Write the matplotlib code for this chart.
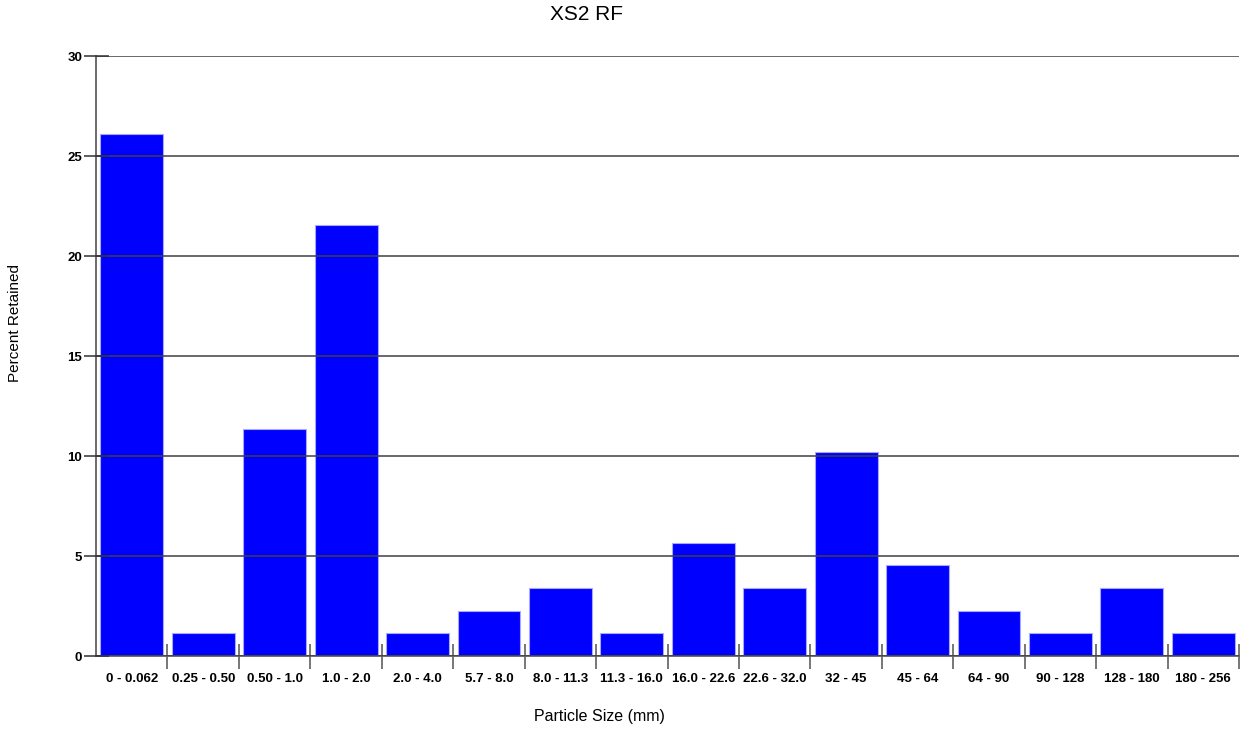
#!/usr/bin/env python3
# -*- coding: utf-8 -*-
"""
Particle size distribution bar chart (XS2 RF)
"""
import numpy as np
import matplotlib
matplotlib.use('Agg')
import matplotlib.pyplot as plt
from matplotlib.ticker import FixedLocator

plt.rcParams['font.family'] = ['Liberation Sans', 'DejaVu Sans']

# data
size_classes = ['0 - 0.062', '0.25 - 0.50', '0.50 - 1.0', '1.0 - 2.0', '2.0 - 4.0',
                '5.7 - 8.0', '8.0 - 11.3', '11.3 - 16.0', '16.0 - 22.6', '22.6 - 32.0',
                '32 - 45', '45 - 64', '64 - 90', '90 - 128', '128 - 180', '180 - 256']
percent_retained = [26.14, 1.14, 11.36, 21.59, 1.14, 2.27, 3.41, 1.14,
                    5.68, 3.41, 10.23, 4.55, 2.27, 1.14, 3.41, 1.14]
y_ticks = [0, 5, 10, 15, 20, 25, 30]

GRID_COLOR = '#404040'
AXIS_COLOR = '#606060'

fig = plt.figure(figsize=(12.41, 7.29), dpi=100)
axis = fig.add_axes([0.0774, 0.1001, 0.9210, 0.8224])

xpos = np.arange(len(size_classes))
axis.bar(xpos, percent_retained,
         width=0.88,
         color='#0000ff',
         edgecolor='#a8a8ff',
         linewidth=0.8,
         zorder=2,
         )

axis.set_xlim(-0.5, len(size_classes) - 0.5)
axis.set_ylim(0, 30)

# grid behind bars
axis.set_yticks(y_ticks)
axis.yaxis.grid(True, color=GRID_COLOR, linewidth=1.1, zorder=0)
axis.set_axisbelow(True)

# x labels at bar centres, boundary ticks between categories
axis.set_xticks(xpos)
axis.set_xticklabels(size_classes, fontsize=9.5, fontweight='bold')
axis.tick_params(axis='x', which='major', length=0, pad=12)
axis.xaxis.set_minor_locator(FixedLocator(np.arange(0.5, len(size_classes), 1.0)))
axis.tick_params(axis='x', which='minor', direction='inout', length=18,
                 width=1.2, color=AXIS_COLOR)

axis.set_yticklabels([str(v) for v in y_ticks], fontsize=9.5, fontweight='bold')
axis.tick_params(axis='y', which='major', direction='inout', length=18,
                 width=1.1, color='#303030', pad=1)

for side in ['top', 'right']:
    axis.spines[side].set_visible(False)
for side in ['left', 'bottom']:
    axis.spines[side].set_color(AXIS_COLOR)
    axis.spines[side].set_linewidth(1.3)
    axis.spines[side].set_zorder(3)

# keep axis ticks above the bars
axis.yaxis.set_zorder(4)
axis.xaxis.set_zorder(4)

fig.text(587 / 1241, 1 - 15 / 729, 'XS2 RF', fontsize=15,
         ha='center', va='center')
fig.text(599 / 1241, 1 - 716 / 729, 'Particle Size (mm)', fontsize=11.5,
         ha='center', va='center')
fig.text(15 / 1241, 1 - 323 / 729, 'Percent Retained', fontsize=11,
         ha='center', va='center', rotation=90)

fig.savefig('out.png', dpi=100, facecolor='white')
